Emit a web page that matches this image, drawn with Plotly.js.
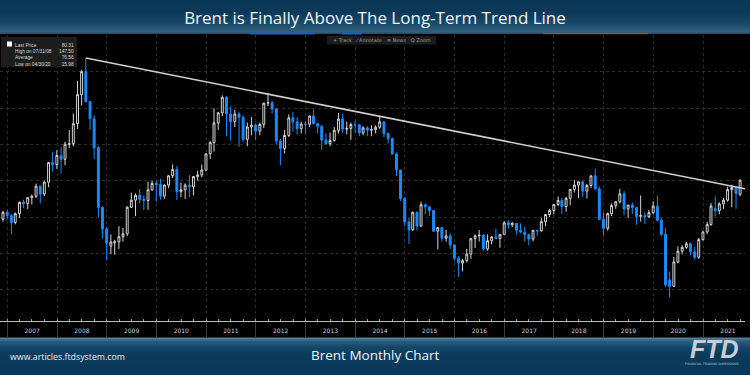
<!DOCTYPE html>
<html>
<head>
<meta charset="utf-8">
<script src="https://cdn.plot.ly/plotly-3.0.1.min.js"></script>
<style>
html,body{margin:0;padding:0;background:#000;}
#chart{width:750px;height:375px;
background:linear-gradient(to bottom,#0a3554 0px,#0b3a5a 14px,#1d4d6c 25px,#32607d 32px,#2b4b5f 33.5px,#000 34px,#000 337px,#56849d 338px,#2c5e7e 341px,#134668 347px,#0b3b5b 355px,#09375a 375px);}
</style>
</head>
<body>
<div id="chart"></div>
<script>
// ---- Data: Brent monthly candles, Nov 2006 .. Sep 2021 (month-end bars) ----
const startYear = 2006, startMonth = 11;
const opens = [
58.8,62.6,
60.9,57.0,61.9,68.1,67.4,70.7,71.4,77.0,72.7,79.2,90.0,88.9,
93.9,91.8,100.1,100.3,111.4,127.4,140.0,123.6,114.1,98.2,65.3,53.5,
44.0,45.9,46.4,49.2,50.8,65.4,69.3,72.0,69.8,69.1,75.0,78.5,
77.9,71.5,77.6,82.7,86.2,74.0,75.0,77.6,76.7,82.3,83.2,85.9,
94.8,101.0,111.8,117.4,125.9,116.7,112.5,116.7,114.9,102.8,109.6,110.5,
107.4,111.0,122.7,122.9,119.5,101.9,97.8,104.9,114.6,112.4,108.7,111.2,
111.1,115.6,111.4,110.0,102.4,100.4,102.2,107.7,114.0,108.4,108.8,110.9,
110.8,106.4,109.1,107.8,108.1,109.4,112.4,106.0,103.2,94.7,85.9,70.2,
57.3,53.0,62.6,55.1,66.8,65.6,63.6,52.2,54.2,48.4,49.6,44.6,
37.3,34.7,36.0,39.6,48.1,49.7,50.0,42.5,47.0,49.1,48.3,50.5,
56.8,55.7,56.5,52.8,51.7,50.3,47.9,52.7,52.4,57.5,61.4,63.6,
66.9,69.1,65.8,70.3,75.2,77.6,79.4,74.3,77.4,82.7,75.5,58.7,
53.8,61.9,66.3,68.4,72.8,64.5,66.6,65.2,60.4,60.8,60.2,62.4,
66.0,58.2,50.5,25.4,21.9,35.3,41.2,43.3,45.3,40.9,37.9,47.6,
51.8,55.9,64.6,63.5,67.3,69.3,75.1,76.3,72.5
];
const highs = [
63.5,64.0,
61.5,62.5,68.5,69.5,71.0,72.5,78.4,77.4,80.0,90.0,96.0,96.8,
98.5,101.5,108.0,117.0,135.0,141.0,147.5,124.0,116.0,99.0,66.0,54.5,
50.5,47.5,55.0,54.0,66.0,73.5,73.0,75.5,72.0,79.5,80.0,80.0,
81.0,78.0,83.0,89.0,88.0,79.0,78.5,83.0,82.5,85.5,89.0,95.0,
101.8,119.8,117.9,127.0,126.5,121.0,119.0,118.0,116.0,112.0,115.0,111.5,
112.0,123.0,128.4,124.0,120.0,103.0,108.0,116.5,117.9,115.0,112.5,112.5,
116.0,119.2,111.9,110.5,106.0,106.5,109.5,117.3,117.0,112.5,112.0,113.0,
111.0,110.0,110.0,110.5,110.5,115.7,112.5,106.5,103.8,95.5,86.0,71.0,
59.5,63.0,63.0,68.5,67.5,66.0,64.0,54.5,54.5,53.0,51.0,45.0,
38.5,37.0,42.5,48.5,50.5,52.9,50.5,50.5,49.5,53.7,50.0,57.9,
58.4,57.4,56.8,56.5,54.7,50.9,52.9,53.0,59.5,61.6,64.6,67.1,
71.3,70.5,71.2,75.5,80.5,79.5,79.9,78.2,82.8,86.7,76.8,62.5,
62.5,67.5,68.7,75.6,74.5,66.5,68.0,65.5,71.9,62.5,64.0,68.7,
71.8,59.5,53.9,30.0,38.0,43.9,44.5,46.5,46.0,43.5,48.5,52.5,
57.4,67.7,71.4,68.1,70.5,76.7,77.8,76.5,80.75
];
const lows = [
57.5,58.6,
50.7,56.0,59.5,65.0,64.5,67.0,70.5,67.5,71.5,76.5,85.0,86.5,
84.0,88.5,98.0,99.0,108.5,121.5,123.0,108.0,92.0,60.0,48.3,36.2,
39.5,39.3,42.5,46.5,49.5,65.0,60.5,67.5,63.9,64.0,74.5,68.5,
69.6,70.0,76.0,81.5,69.5,71.0,70.0,71.0,72.0,80.0,82.0,85.5,
92.0,96.0,108.0,115.5,104.6,102.0,109.5,98.7,101.5,99.0,105.0,102.5,
105.0,109.0,121.0,117.0,100.0,88.5,95.0,104.0,107.0,105.5,106.0,105.5,
109.5,111.0,106.0,96.8,100.0,99.0,101.5,106.0,106.5,105.5,102.5,106.5,
104.5,105.0,104.5,104.5,106.0,108.5,104.0,100.5,94.5,82.6,68.8,55.0,
45.2,52.5,52.5,54.5,61.5,60.5,52.0,42.2,46.5,46.5,42.5,36.0,
27.1,30.0,35.0,37.0,43.0,46.5,41.5,41.5,45.0,48.0,43.1,50.2,
53.6,54.5,50.3,51.3,46.6,44.4,46.6,49.7,52.0,55.0,60.0,61.5,
66.0,61.8,62.9,66.5,73.5,70.5,71.0,70.3,76.0,75.1,58.4,50.0,
52.5,60.5,64.5,67.5,61.0,59.5,61.5,55.9,57.5,56.2,59.5,61.5,
57.7,49.5,21.6,15.98,21.5,34.5,39.5,42.5,38.9,36.6,37.0,47.0,
50.5,55.2,60.3,61.5,64.5,68.5,65.5,64.6,71.5
];
const closes = [
62.6,60.9,
57.0,61.9,68.1,67.4,70.7,71.4,77.0,72.7,79.2,90.0,88.9,93.9,
91.8,100.1,100.3,111.4,127.4,140.0,123.6,114.1,98.2,65.3,53.5,45.6,
46.2,46.4,49.2,50.8,65.4,69.3,72.0,69.8,69.1,75.0,78.5,77.9,
71.5,77.6,82.7,86.2,74.0,75.0,77.6,76.7,82.3,83.2,85.9,94.8,
101.0,111.8,117.4,125.9,116.7,112.5,116.7,114.9,102.8,109.6,110.5,107.4,
111.0,122.7,122.9,119.5,101.9,97.8,104.9,114.6,112.4,108.7,111.2,111.1,
115.6,111.4,110.0,102.4,100.4,102.2,107.7,114.0,108.4,108.8,110.9,110.8,
106.4,109.1,107.8,108.1,109.4,112.4,106.0,103.2,94.7,85.9,70.2,57.3,
53.0,62.6,55.1,66.8,65.6,63.6,52.2,54.2,48.4,49.6,44.6,37.3,
34.7,36.0,39.6,48.1,49.7,50.0,42.5,47.0,49.1,48.3,50.5,56.8,
55.7,56.5,52.8,51.7,50.3,47.9,52.7,52.4,57.5,61.4,63.6,66.9,
69.1,65.8,70.3,75.2,77.6,79.4,74.3,77.4,82.7,75.5,58.7,53.8,
61.9,66.3,68.4,72.8,64.5,66.6,65.2,60.4,60.8,60.2,62.4,66.0,
58.2,50.5,22.7,21.9,35.3,41.2,43.3,45.3,40.9,37.9,47.6,51.8,
55.9,66.1,63.5,67.3,69.3,75.1,76.3,73.0,80.31
];
// long-term trend line (from the July 2008 high to the right edge)
const trendX = ['2008-07-31', '2021-11-05'];
const trendY = [147.5, 75.6];
// info box
const legendLabels = ['Last Price', 'High on 07/31/08', 'Average', 'Low on 04/30/20'];
const legendValues = ['80.31', '147.50', '76.56', '15.98'];
const titleText = 'Brent is Finally Above The Long-Term Trend Line';
const subtitleText = 'Brent Monthly Chart';
const urlText = 'www.articles.ftdsystem.com';
const toolbarItems = ['+ Track', '⁄ Annotate', '≡ News', 'Q Zoom'];

// month-end dates for each candle
function pad(n){return (n<10?'0':'')+n;}
const dates = closes.map(function(_, i){
  const m = (startMonth - 1) + i;
  const y = startYear + Math.floor(m / 12);
  const mo = m % 12;
  const d = new Date(Date.UTC(y, mo + 1, 0));
  return d.getUTCFullYear() + '-' + pad(d.getUTCMonth() + 1) + '-' + pad(d.getUTCDate());
});

// pixel -> paper helpers for layout decorations (plot area: x 0..745, y 35..321)
const PL = 0, PW = 745, PT = 35, PB = 321;
function px(x){return (x - PL) / PW;}
function py(y){return (PB - y) / (PB - PT);}

const candles = {
  type: 'candlestick',
  x: dates, open: opens, high: highs, low: lows, close: closes,
  increasing: {line: {color: '#d4d4d4', width: 1}, fillcolor: '#000000'},
  decreasing: {line: {color: '#1a8cff', width: 1}, fillcolor: '#1a8cff'},
  whiskerwidth: 0,
  hoverinfo: 'skip',
  showlegend: false
};
const trend = {
  type: 'scatter', mode: 'lines', x: trendX, y: trendY,
  line: {color: '#d0d0d0', width: 1.6},
  hoverinfo: 'skip', showlegend: false
};

const gray = '#2b2b2b';
const layout = {
  width: 750, height: 375,
  margin: {l: PL, r: 750 - PL - PW, t: PT, b: 375 - PB, pad: 0},
  paper_bgcolor: 'rgba(0,0,0,0)',
  plot_bgcolor: '#000000',
  showlegend: false,
  boxgap: 0.28,
  title: {
    text: titleText,
    font: {family: 'Open Sans, Lato, sans-serif', size: 17, color: '#f0f3f5'},
    xref: 'container', x: 0.5, xanchor: 'center',
    yref: 'container', y: 1 - 18.5 / 375, yanchor: 'middle'
  },
  xaxis: {
    type: 'date',
    range: ['2006-11-08', '2021-11-05'],
    tick0: '2007-01-01', dtick: 'M12', tickformat: '%Y',
    ticklabelmode: 'period',
    ticks: 'outside', ticklen: 16, tickcolor: '#3a3a3a', tickwidth: 1,
    ticklabelstandoff: -12,
    tickfont: {family: 'DejaVu Sans', size: 6, color: '#cfcfcf'},
    showgrid: true, gridcolor: gray, griddash: 'dot', gridwidth: 1,
    showline: true, linecolor: '#bdbdbd', linewidth: 1,
    zeroline: false,
    minor: {dtick: 'M3', tick0: '2007-01-01', ticks: 'inside', ticklen: 2, tickcolor: '#9a9a9a', showgrid: false},
    rangeslider: {visible: false},
    fixedrange: true
  },
  yaxis: {
    range: [2.8, 160.2],
    tick0: 0, dtick: 20,
    showticklabels: false, ticks: '',
    showgrid: true, gridcolor: gray, griddash: 'dot', gridwidth: 1,
    zeroline: false, showline: false, fixedrange: true
  },
  shapes: [
    // info box background
    {type: 'rect', xref: 'paper', yref: 'paper', x0: px(1), x1: px(77), y0: py(67), y1: py(37),
     fillcolor: 'rgba(32,32,32,0.9)', line: {width: 0}, layer: 'above'},
    {type: 'rect', xref: 'paper', yref: 'paper', x0: px(7), x1: px(12), y0: py(46.5), y1: py(41.5),
     fillcolor: '#ffffff', line: {width: 0}, layer: 'above'},
    // toolbar background
    {type: 'rect', xref: 'paper', yref: 'paper', x0: px(327), x1: px(436), y0: py(44.5), y1: py(36),
     fillcolor: '#1c1c1c', line: {width: 0}, layer: 'above'},
    // header tab accents
    {type: 'line', xref: 'paper', yref: 'paper', x0: px(250), x1: px(315), y0: py(33.6), y1: py(33.6),
     line: {color: '#1f5fc0', width: 2}},
    {type: 'line', xref: 'paper', yref: 'paper', x0: px(342), x1: px(362), y0: py(33.6), y1: py(33.6),
     line: {color: '#1f5fc0', width: 2}},
    {type: 'line', xref: 'paper', yref: 'paper', x0: px(543), x1: px(648), y0: py(33.6), y1: py(33.6),
     line: {color: '#7a6246', width: 1.5}}
  ],
  annotations: [
    {xref: 'paper', yref: 'paper', x: px(13), y: py(40.5), xanchor: 'left', yanchor: 'top',
     text: legendLabels.join('<br>'), align: 'left', showarrow: false,
     font: {family: 'Liberation Sans, Arial, sans-serif', size: 4.8, color: '#d8d8d8'}},
    {xref: 'paper', yref: 'paper', x: px(75.5), y: py(40.5), xanchor: 'right', yanchor: 'top',
     text: legendValues.join('<br>'), align: 'right', showarrow: false,
     font: {family: 'Liberation Sans, Arial, sans-serif', size: 4.8, color: '#d8d8d8'}},
    {xref: 'paper', yref: 'paper', x: px(381.5), y: py(40.3), xanchor: 'center', yanchor: 'middle',
     text: toolbarItems.join('   '), showarrow: false,
     font: {family: 'DejaVu Sans', size: 5, color: '#9c9c9c'}},
    {xref: 'paper', yref: 'paper', x: px(8), y: py(357), xanchor: 'left', yanchor: 'middle',
     text: urlText, showarrow: false,
     font: {family: 'Open Sans, sans-serif', size: 8.8, color: '#e6edf2'}},
    {xref: 'paper', yref: 'paper', x: px(375), y: py(355), xanchor: 'center', yanchor: 'middle',
     text: subtitleText, showarrow: false,
     font: {family: 'Open Sans, sans-serif', size: 13.5, color: '#f0f3f5'}},
    {xref: 'paper', yref: 'paper', x: px(714), y: py(348.5), xanchor: 'center', yanchor: 'middle',
     text: '<b><i>FTD</i></b>', showarrow: false,
     font: {family: 'Liberation Sans, Arial, sans-serif', size: 25, color: '#c9ced2'}},
    {xref: 'paper', yref: 'paper', x: px(712), y: py(364), xanchor: 'center', yanchor: 'middle',
     text: 'FINANCIAL TRADING DIMENSIONS', showarrow: false,
     font: {family: 'DejaVu Sans', size: 3.2, color: '#b8c0c6'}}
  ]
};

Plotly.newPlot('chart', [candles, trend], layout, {displayModeBar: false, staticPlot: true});
</script>
</body>
</html>
